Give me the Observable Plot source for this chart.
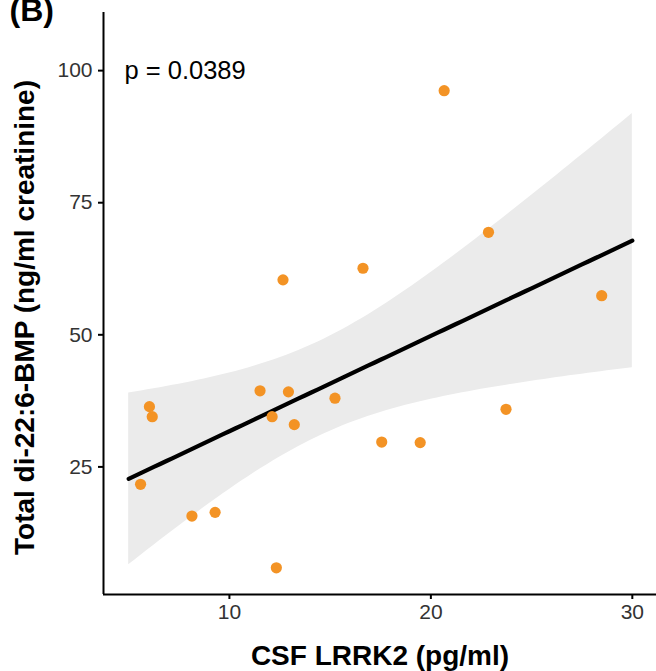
<!DOCTYPE html>
<html>
<head>
<meta charset="utf-8">
<script src="https://cdn.jsdelivr.net/npm/d3@7"></script>
<script src="https://cdn.jsdelivr.net/npm/@observablehq/plot@0.6"></script>
<style>
  html, body { margin: 0; padding: 0; background: white; }
  #chart { position: relative; width: 656px; height: 671px; overflow: hidden; }
</style>
</head>
<body>
<div id="chart"></div>
<script>
// Data
const lrrk2 = [5.59, 6.03, 6.17, 8.14, 9.29, 11.52, 12.12, 12.66, 12.93, 13.22, 12.33, 15.24, 16.63, 17.56, 19.47, 20.66, 22.86, 23.73, 28.48];
const bmp   = [21.7, 36.4, 34.5, 15.7, 16.4, 39.4, 34.5, 60.4, 39.2, 33.0, 5.9, 38.0, 62.6, 29.7, 29.6, 96.2, 69.4, 35.9, 57.4];
const xTicks = [10, 20, 30];
const yTicks = [25, 50, 75, 100];
const xLimits = [5, 30];
const pLabel = "p = 0.0389";
const xTitle = "CSF LRRK2 (pg/ml)";
const yTitle = "Total di-22:6-BMP (ng/ml creatinine)";
const panel = "(B)";

const data = lrrk2.map((x, i) => ({x, y: bmp[i]}));

// Linear fit with 95% confidence band (t quantile, df = n - 2 = 17)
const n = data.length;
const mx = d3.mean(data, d => d.x), my = d3.mean(data, d => d.y);
const sxx = d3.sum(data, d => (d.x - mx) ** 2);
const sxy = d3.sum(data, d => (d.x - mx) * (d.y - my));
const slope = sxy / sxx, intercept = my - slope * mx;
const sse = d3.sum(data, d => (d.y - (intercept + slope * d.x)) ** 2);
const s = Math.sqrt(sse / (n - 2));
const tq = 2.109816;
const band = d3.range(81).map(i => {
  const x = xLimits[0] + (xLimits[1] - xLimits[0]) * i / 80;
  const fit = intercept + slope * x;
  const se = s * Math.sqrt(1 / n + (x - mx) ** 2 / sxx);
  return {x, fit, lo: fit - tq * se, hi: fit + tq * se};
});

const xDomain = [3.75, 31.2];
const yDomain = [0.85, 111];

const chart = Plot.plot({
  width: 656,
  height: 671,
  marginLeft: 103,
  marginRight: 0,
  marginTop: 12,
  marginBottom: 77,
  style: {fontFamily: "'Liberation Sans', Arial, sans-serif", background: "white", overflow: "visible", color: "black"},
  x: {domain: xDomain, axis: null},
  y: {domain: yDomain, axis: null},
  marks: [
    Plot.areaY(band, {x: "x", y1: "lo", y2: "hi", fill: "#ebebeb"}),
    Plot.line(band, {x: "x", y: "fit", stroke: "black", strokeWidth: 4.2}),
    Plot.dot(data, {x: "x", y: "y", r: 5.6, fill: "#f39325", stroke: "none"}),
    Plot.ruleX([xDomain[0]], {stroke: "black", strokeWidth: 2}),
    Plot.ruleY([yDomain[0]], {stroke: "black", strokeWidth: 2}),
    Plot.axisX(xTicks, {tickSize: 5, tickPadding: 5, fontSize: 21, fill: "#333", stroke: "black", strokeWidth: 2, label: null}),
    Plot.axisY(yTicks, {tickSize: 5, tickPadding: 6, fontSize: 21, fill: "#333", stroke: "black", strokeWidth: 2, label: null}),
    Plot.text([pLabel], {frameAnchor: "top-left", dx: 21, dy: 58, textAnchor: "start", lineAnchor: "middle", fontSize: 25.5, fill: "black"}),
    Plot.text([xTitle], {frameAnchor: "bottom", dy: 62, lineAnchor: "middle", fontSize: 28, fontWeight: "bold", fill: "black"}),
    Plot.text([yTitle], {frameAnchor: "left", dx: -78, dy: 14, rotate: -90, textAnchor: "middle", lineAnchor: "middle", fontSize: 28, fontWeight: "bold", fill: "black"}),
    Plot.text([panel], {frameAnchor: "top-left", dx: -94, dy: -2, textAnchor: "start", lineAnchor: "middle", fontSize: 32, fontWeight: "bold", fill: "black"})
  ]
});
document.getElementById("chart").appendChild(chart);
</script>
</body>
</html>
